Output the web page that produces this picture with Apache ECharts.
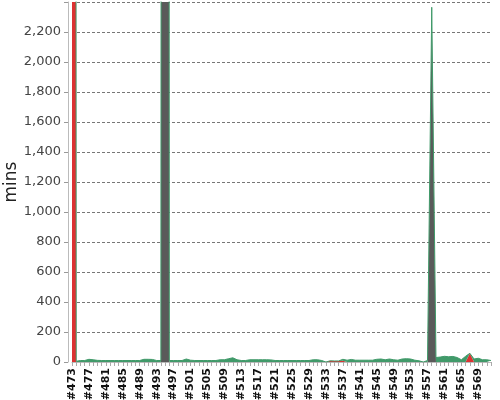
<!DOCTYPE html>
<html><head><meta charset="utf-8">
<script src="https://cdn.jsdelivr.net/npm/echarts@6/dist/echarts.min.js"></script>
<style>html,body{margin:0;padding:0;background:#fff}#c{width:500px;height:400px}</style>
</head><body><div id="c"></div>
<script>
const firstBuild = 473;
const lastBuild = 572;
const categories = [];
for (let b = firstBuild; b <= lastBuild; b++) categories.push('#' + b);

// minutes per build, by result (0 = build had a different result)
const success = [
 0,5,10,10,18,15,11,10,10,10, 10,10,10,10,10,10,10,18,18,17, 10,10,0,10,10,10,10,20,12,10,
 10,10,10,10,10,15,15,22,28,15, 10,10,15,15,15,15,15,14,10,10, 10,10,10,10,10,10,10,15,15,10,
 0,0,0,0,10,12,17,12,12,12, 12,12,18,20,15,20,15,12,20,22, 20,12,8,0,10,25,30,33,38,35,
 37,30,15,38,0,20,25,15,15,10
];
const failure = [
 60000,0,0,0,0,0,0,0,0,0, 0,0,0,0,0,0,0,0,0,0, 0,0,0,0,0,0,0,0,0,0,
 0,0,0,0,0,0,0,0,0,0, 0,0,0,0,0,0,0,0,0,0, 0,0,0,0,0,0,0,0,0,0,
 0,8,7,7,8,0,0,0,0,0, 0,0,0,0,0,0,0,0,0,0, 0,0,0,0,0,0,0,0,0,0,
 0,0,0,0,58,0,0,0,0,0
];
const aborted = [
 0,0,0,0,0,0,0,0,0,0, 0,0,0,0,0,0,0,0,0,0, 0,0,60000,0,0,0,0,0,0,0,
 0,0,0,0,0,0,0,0,0,0, 0,0,0,0,0,0,0,0,0,0, 0,0,0,0,0,0,0,0,0,0,
 0,0,0,0,0,0,0,0,0,0, 0,0,0,0,0,0,0,0,0,0, 0,0,0,0,0,2340,0,0,0,0,
 0,0,0,0,0,0,0,0,0,0
];
const yTicks = [0,200,400,600,800,1000,1200,1400,1600,1800,2000,2200];

const chart = echarts.init(document.getElementById('c'), null, {renderer:'canvas'});
const font = 'DejaVu Sans';
function area(name, data, color, lineW){
  return {name, type:'line', stack:'t', data, symbol:'none', smooth:false,
    lineStyle:{width:lineW, color}, areaStyle:{color, opacity:1}, itemStyle:{color},
    silent:true, animation:false};
}
chart.setOption({
  animation:false,
  grid:{left:72, right:9, top:2, bottom:38, containLabel:false, outerBoundsMode:'none'},
  xAxis:{type:'category', data:categories, boundaryGap:false,
    axisLine:{lineStyle:{color:'#bbbbbb'}},
    axisTick:{show:true, interval:0, length:4, lineStyle:{color:'#aaaaaa'}},
    axisLabel:{interval:3, rotate:90, fontFamily:font, fontSize:11, fontWeight:'bold', color:'#111', margin:6},
    splitLine:{show:false}},
  yAxis:{type:'value', min:0, max:2400, interval:200, offset:4,
    name:'mins', nameLocation:'middle', nameGap:48, nameRotate:90, nameMoveOverlap:false,
    nameTextStyle:{fontFamily:font, fontSize:17, color:'#222'},
    axisLine:{show:true, lineStyle:{color:'#bbbbbb'}},
    axisTick:{show:true, length:4, lineStyle:{color:'#999'}},
    axisLabel:{fontFamily:font, fontSize:13, color:'#444', margin:7,
      formatter:v => yTicks.includes(v) ? v.toLocaleString('en-US') : ''},
    splitLine:{show:true, lineStyle:{color:'#777', type:[3,2], width:1}}},
  series:[
    area('Failed', failure, '#dc3232', 0),
    area('Aborted', aborted, '#5a5a5a', 0),
    area('Success', success, '#419a6a', 1)
  ]
});
</script></body></html>
